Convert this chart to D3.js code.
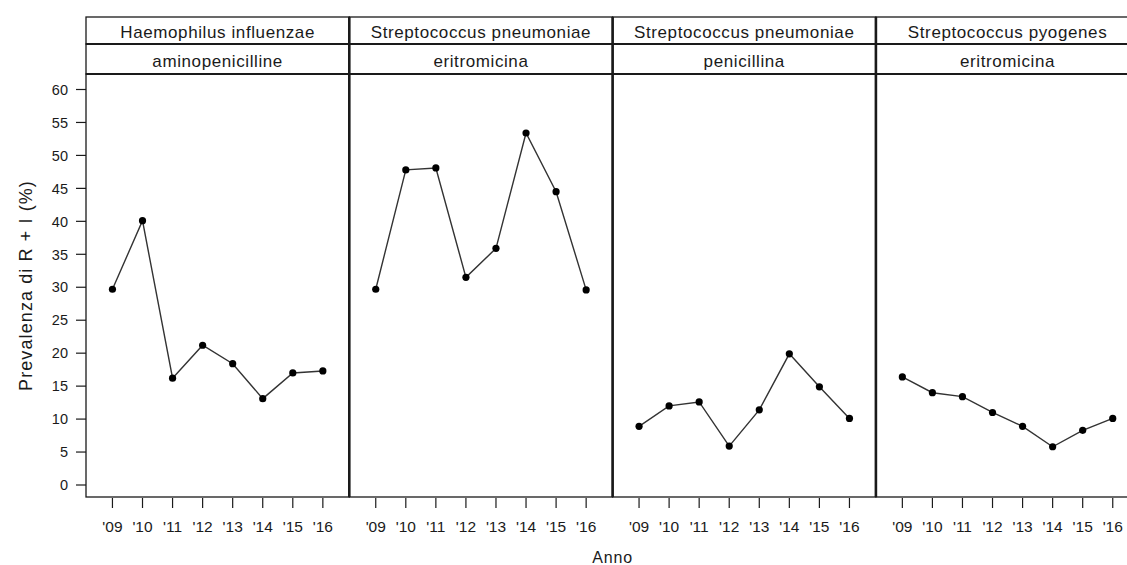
<!DOCTYPE html>
<html>
<head>
<meta charset="utf-8">
<script src="https://cdn.jsdelivr.net/npm/d3@7/dist/d3.min.js"></script>
<style>
  html, body { margin: 0; padding: 0; background: #ffffff; }
  svg { display: block; font-family: "Liberation Sans", Arial, Helvetica, sans-serif; }
</style>
</head>
<body>
<svg id="chart" width="1127" height="565"></svg>
<script>
// ---- data ----
const years = [2009, 2010, 2011, 2012, 2013, 2014, 2015, 2016];
const yearLabels = ["'09", "'10", "'11", "'12", "'13", "'14", "'15", "'16"];
const organisms = ["Haemophilus influenzae", "Streptococcus pneumoniae", "Streptococcus pneumoniae", "Streptococcus pyogenes"];
const antibiotics = ["aminopenicilline", "eritromicina", "penicillina", "eritromicina"];
const hiAmino = [29.7, 40.1, 16.2, 21.2, 18.4, 13.1, 17.0, 17.3];
const spnEritro = [29.7, 47.8, 48.1, 31.5, 35.9, 53.4, 44.5, 29.6];
const spnPeni = [8.9, 12.0, 12.6, 5.9, 11.4, 19.9, 14.9, 10.1];
const spyEritro = [16.4, 14.0, 13.4, 11.0, 8.9, 5.8, 8.3, 10.1];
const yTicks = [0, 5, 10, 15, 20, 25, 30, 35, 40, 45, 50, 55, 60];
const seriesList = [hiAmino, spnEritro, spnPeni, spyEritro];

// ---- layout ----
const svg = d3.select("#chart");
const left = 86, panelW = 263.3;
const stripTop = 17, stripMid = 44, plotTop = 74, plotBottom = 497;

const y = d3.scaleLinear().domain([0, 60]).range([485, 89.5]);

const ink = "#1a1a1a";

// y axis
const yAxisG = svg.append("g").attr("transform", `translate(${left},0)`);
yAxisG.selectAll("line.tick").data(yTicks).join("line")
  .attr("x1", -10).attr("x2", 0)
  .attr("y1", d => y(d)).attr("y2", d => y(d))
  .attr("stroke", ink).attr("stroke-width", 1.2);
yAxisG.selectAll("text").data(yTicks).join("text")
  .attr("x", -18).attr("y", d => y(d)).attr("dy", "0.36em")
  .attr("text-anchor", "end").attr("font-size", 14.5).attr("fill", ink)
  .text(d => d);

// y title
svg.append("text")
  .attr("transform", `translate(32,${(plotTop + plotBottom) / 2}) rotate(-90)`)
  .attr("text-anchor", "middle").attr("font-size", 18).attr("letter-spacing", 1.1)
  .attr("fill", ink).text("Prevalenza di R + I (%)");

// panels
seriesList.forEach((vals, i) => {
  const x0 = left + i * panelW;
  const x = d3.scalePoint().domain(years).range([x0, x0 + panelW]).padding(0.88);
  const g = svg.append("g");

  // strips
  g.append("rect").attr("x", x0).attr("y", stripTop).attr("width", panelW).attr("height", stripMid - stripTop)
    .attr("fill", "none").attr("stroke", ink).attr("stroke-width", 1.3);
  g.append("rect").attr("x", x0).attr("y", stripMid).attr("width", panelW).attr("height", plotTop - stripMid)
    .attr("fill", "none").attr("stroke", ink).attr("stroke-width", 1.3);
  g.append("text").attr("x", x0 + panelW / 2).attr("y", 37.5).attr("text-anchor", "middle")
    .attr("font-size", 17).attr("letter-spacing", 0.6).attr("fill", ink).text(organisms[i]);
  g.append("text").attr("x", x0 + panelW / 2).attr("y", 66.5).attr("text-anchor", "middle")
    .attr("font-size", 17).attr("letter-spacing", 0.6).attr("fill", ink).text(antibiotics[i]);

  // x ticks
  g.selectAll("line.xt").data(years).join("line")
    .attr("x1", d => x(d)).attr("x2", d => x(d))
    .attr("y1", plotBottom + 1).attr("y2", plotBottom + 11)
    .attr("stroke", ink).attr("stroke-width", 1.2);
  g.selectAll("text.xl").data(years).join("text")
    .attr("x", d => x(d)).attr("y", 531.5).attr("text-anchor", "middle")
    .attr("font-size", 15.5).attr("fill", ink)
    .text((d, j) => yearLabels[j]);

  // line + markers
  const line = d3.line().x((d, j) => x(years[j])).y(d => y(d));
  g.append("path").datum(vals).attr("d", line)
    .attr("fill", "none").attr("stroke", "#333").attr("stroke-width", 1.4);
  g.selectAll("circle").data(vals).join("circle")
    .attr("cx", (d, j) => x(years[j])).attr("cy", d => y(d)).attr("r", 3.6)
    .attr("fill", "#000");

  // panel frame
  g.append("rect").attr("x", x0).attr("y", plotTop).attr("width", panelW).attr("height", plotBottom - plotTop)
    .attr("fill", "none").attr("stroke", ink).attr("stroke-width", 1.3);
});

// thicker dividers between panels and under strips
for (let i = 1; i < 4; i++) {
  const xd = left + i * panelW;
  svg.append("line").attr("x1", xd).attr("x2", xd).attr("y1", stripTop).attr("y2", plotBottom)
    .attr("stroke", ink).attr("stroke-width", 2.6);
}
svg.append("line").attr("x1", left).attr("x2", left + 4 * panelW).attr("y1", plotTop).attr("y2", plotTop)
  .attr("stroke", ink).attr("stroke-width", 2.2);
svg.append("line").attr("x1", left).attr("x2", left + 4 * panelW).attr("y1", stripMid).attr("y2", stripMid)
  .attr("stroke", ink).attr("stroke-width", 1.8);

// x title
svg.append("text").attr("x", left + 2 * panelW).attr("y", 563).attr("text-anchor", "middle")
  .attr("font-size", 16).attr("letter-spacing", 0.8).attr("fill", ink).text("Anno");
</script>
</body>
</html>
